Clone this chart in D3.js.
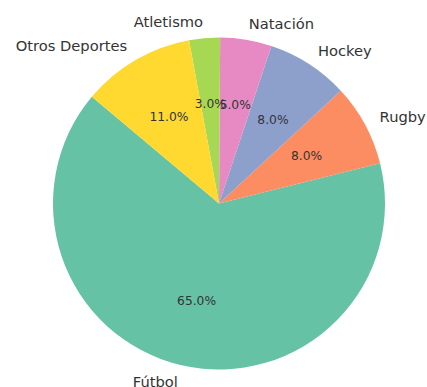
<!DOCTYPE html>
<html>
<head>
<meta charset="utf-8">
<script src="https://cdn.jsdelivr.net/npm/d3@7"></script>
<style>
  body { margin: 0; background: #fff; }
  text { font-family: "DejaVu Sans", sans-serif; }
</style>
</head>
<body>
<div id="app"></div>
<script>
// datos del gráfico
const deportes = ["Fútbol", "Rugby", "Hockey", "Natación", "Atletismo", "Otros Deportes"];
const porcentajes = [65, 8, 8, 5, 3, 11];
const colores = ["#66c2a5", "#fc8d62", "#8da0cb", "#e78ac3", "#a6d854", "#ffd92f"];

const width = 427, height = 387;
const cx = 219, cy = 203.5, radius = 166;

const svg = d3.select("#app")
  .append("svg")
  .attr("width", width)
  .attr("height", height)
  .append("g")
  .attr("transform", `translate(${cx}, ${cy})`);

// startangle 140 (sentido antihorario)
const start = (90 - 140) * Math.PI / 180;
const pie = d3.pie()
  .sort(null)
  .value(d => d.v)
  .startAngle(start)
  .endAngle(start - 2 * Math.PI);

const data = deportes.map((n, i) => ({ n, v: porcentajes[i], c: colores[i] }));
const arcs = pie(data);

const arc = d3.arc().innerRadius(0).outerRadius(radius);

svg.selectAll("path")
  .data(arcs)
  .enter()
  .append("path")
  .attr("d", arc)
  .attr("fill", d => d.data.c);

const pos = (d, f) => {
  const a = (d.startAngle + d.endAngle) / 2;
  return [Math.sin(a) * radius * f, -Math.cos(a) * radius * f];
};

// etiquetas de porcentaje
svg.selectAll(".pct")
  .data(arcs)
  .enter()
  .append("text")
  .attr("class", "pct")
  .attr("x", d => pos(d, 0.6)[0])
  .attr("y", d => pos(d, 0.6)[1])
  .attr("text-anchor", "middle")
  .attr("dominant-baseline", "central")
  .attr("font-size", 12.3)
  .attr("fill", "#333")
  .text(d => d.data.v.toFixed(1) + "%");

// nombres
svg.selectAll(".lbl")
  .data(arcs)
  .enter()
  .append("text")
  .attr("class", "lbl")
  .attr("x", d => pos(d, 1.1)[0])
  .attr("y", d => pos(d, 1.1)[1])
  .attr("text-anchor", d => pos(d, 1.1)[0] > 0 ? "start" : "end")
  .attr("dominant-baseline", "central")
  .attr("font-size", 14.7)
  .attr("fill", "#333")
  .text(d => d.data.n);
</script>
</body>
</html>
